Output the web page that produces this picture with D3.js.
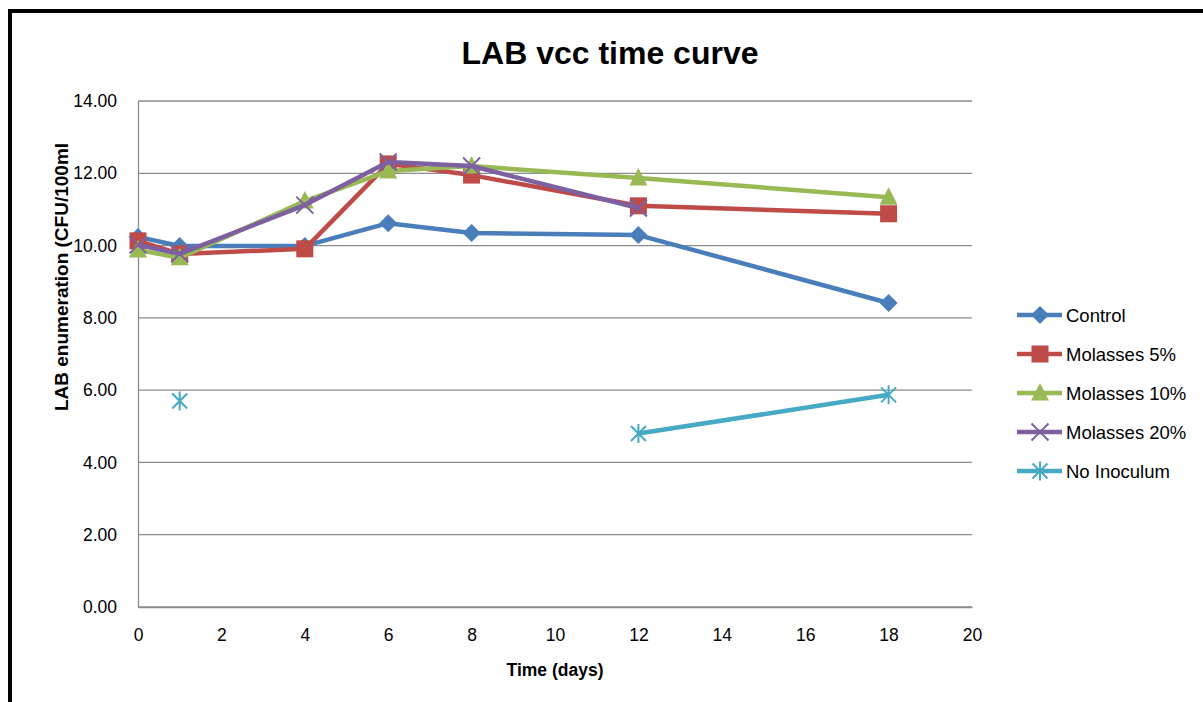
<!DOCTYPE html>
<html>
<head>
<meta charset="utf-8">
<script src="https://cdn.jsdelivr.net/npm/d3@7"></script>
<style>
  html, body { margin: 0; padding: 0; background: #fff; }
  svg { display: block; font-family: "Liberation Sans", Arial, sans-serif; }
</style>
</head>
<body>
<svg id="chart" width="1203" height="702"></svg>
<script>
// Sampling days
const days = [0, 1, 4, 6, 8, 12, 18];

// LAB counts (log CFU/100ml); null = not measured
const control     = [10.24, 9.99, 9.99, 10.62, 10.35, 10.29, 8.41];
const molasses5   = [10.13, 9.77, 9.91, 12.26, 11.95, 11.10, 10.88];
const molasses10  = [9.88, 9.66, 11.23, 12.06, 12.20, 11.87, 11.34];
const molasses20  = [10.02, 9.77, 11.12, 12.31, 12.20, 11.04, null];
const noInoculum  = [null, 5.70, null, null, null, 4.80, 5.87];

const seriesNames  = ["Control", "Molasses 5%", "Molasses 10%", "Molasses 20%", "No Inoculum"];
const seriesValues = [control, molasses5, molasses10, molasses20, noInoculum];
const seriesColors = ["#4A7EBB", "#BE4B48", "#98B954", "#7D60A0", "#46AAC5"];
const seriesMarkers = ["diamond", "square", "triangle", "x", "star"];

const xTicks = [0, 2, 4, 6, 8, 10, 12, 14, 16, 18, 20];
const yTicks = [0, 2, 4, 6, 8, 10, 12, 14];

const svg = d3.select("#chart");

// outer frame
svg.append("rect")
  .attr("x", 10).attr("y", 11)
  .attr("width", 1250).attr("height", 760)
  .attr("fill", "none").attr("stroke", "#000").attr("stroke-width", 4);

const plot = { left: 138, right: 972, top: 101, bottom: 607 };
const x = d3.scaleLinear().domain([0, 20]).range([plot.left, plot.right]);
const y = d3.scaleLinear().domain([0, 14]).range([plot.bottom, plot.top]);

// gridlines
svg.append("g")
  .selectAll("line").data(yTicks).join("line")
  .attr("x1", plot.left).attr("x2", plot.right)
  .attr("y1", d => y(d)).attr("y2", d => y(d))
  .attr("stroke", "#8c8c8c").attr("stroke-width", 1.3);

// axes
const yAxis = svg.append("g").attr("transform", `translate(${plot.left},0)`)
  .call(d3.axisLeft(y).tickValues(yTicks).tickFormat(d3.format(".2f")).tickSize(0).tickPadding(21));
const xAxis = svg.append("g").attr("transform", `translate(0,${plot.bottom})`)
  .call(d3.axisBottom(x).tickValues(xTicks).tickSize(0).tickPadding(22));
[xAxis, yAxis].forEach(a => {
  a.select(".domain").attr("stroke", "#8c8c8c").attr("stroke-width", 1.3);
  a.selectAll("text").attr("font-size", 17.5).attr("fill", "#000")
    .attr("font-family", "Liberation Sans, Arial, sans-serif");
});

// titles
svg.append("text").attr("x", 610).attr("y", 64).attr("text-anchor", "middle")
  .attr("font-size", 32).attr("font-weight", "bold").text("LAB vcc time curve");
svg.append("text").attr("x", 555).attr("y", 676).attr("text-anchor", "middle")
  .attr("font-size", 17.5).attr("font-weight", "bold").text("Time (days)");
svg.append("text")
  .attr("transform", "translate(68,277) rotate(-90)")
  .attr("text-anchor", "middle")
  .attr("font-size", 19).attr("font-weight", "bold").text("LAB enumeration (CFU/100ml");

// marker drawing
function drawMarker(g, type, color) {
  if (type === "diamond") {
    g.append("path").attr("d", "M0,-9L9,0L0,9L-9,0Z").attr("fill", color);
  } else if (type === "square") {
    g.append("rect").attr("x", -8.5).attr("y", -8.5).attr("width", 17).attr("height", 17).attr("fill", color);
  } else if (type === "triangle") {
    g.append("path").attr("d", "M0,-10L9,7.5L-9,7.5Z").attr("fill", color);
  } else if (type === "x") {
    g.append("path").attr("d", "M-8.5,-8.5L8.5,8.5M-8.5,8.5L8.5,-8.5").attr("stroke", color).attr("stroke-width", 2);
  } else if (type === "star") {
    g.append("path").attr("d", "M-7.5,-7.5L7.5,7.5M-7.5,7.5L7.5,-7.5M0,-9.5V9.5").attr("stroke", color).attr("stroke-width", 2);
  }
}

const line = d3.line()
  .defined(d => d.v !== null)
  .x(d => x(d.t)).y(d => y(d.v));

seriesValues.forEach((vals, i) => {
  const pts = days.map((t, j) => ({ t, v: vals[j] }));
  svg.append("path").datum(pts)
    .attr("d", line)
    .attr("fill", "none")
    .attr("stroke", seriesColors[i])
    .attr("stroke-width", 4.5)
    .attr("stroke-linejoin", "round");
  pts.filter(d => d.v !== null).forEach(d => {
    const g = svg.append("g").attr("transform", `translate(${x(d.t)},${y(d.v)})`);
    drawMarker(g, seriesMarkers[i], seriesColors[i]);
  });
});

// legend
const legend = svg.append("g");
seriesNames.forEach((name, i) => {
  const ly = 315 + i * 39;
  const g = legend.append("g").attr("transform", `translate(0,${ly})`);
  g.append("line").attr("x1", 1017).attr("x2", 1062).attr("y1", 0).attr("y2", 0)
    .attr("stroke", seriesColors[i]).attr("stroke-width", 4.5);
  const m = g.append("g").attr("transform", "translate(1040,0)");
  drawMarker(m, seriesMarkers[i], seriesColors[i]);
  g.append("text").attr("x", 1066).attr("y", 6.5).attr("font-size", 18.5).text(name);
});
</script>
</body>
</html>
